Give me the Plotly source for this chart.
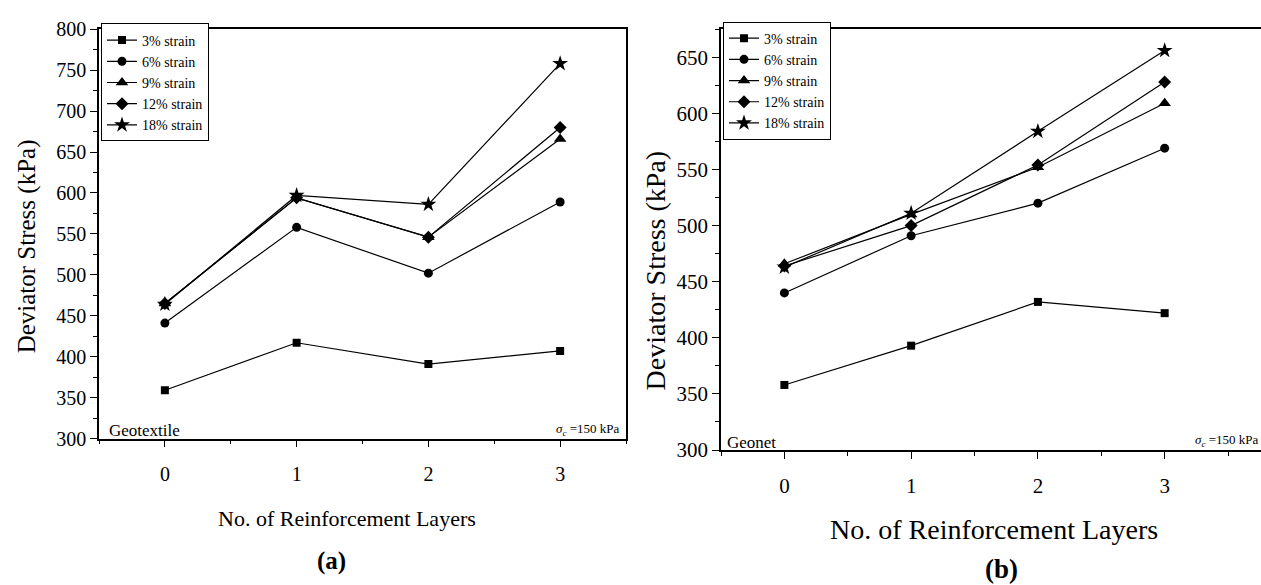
import plotly.graph_objects as go

layers = [0, 1, 2, 3]
series_names = ["3% strain", "6% strain", "9% strain", "12% strain", "18% strain"]
symbols = ["square", "circle", "triangle-up", "diamond", "star"]
sizes = [8, 9, 11, 10, 12]

geotextile_3 = [359, 417, 391, 407]
geotextile_6 = [441, 558, 502, 589]
geotextile_9 = [465, 594, 546, 666]
geotextile_12 = [465, 594, 546, 680]
geotextile_18 = [464, 597, 586, 758]

geonet_3 = [358, 393, 432, 422]
geonet_6 = [440, 491, 520, 569]
geonet_9 = [466, 510, 552, 609]
geonet_12 = [464, 500, 554, 628]
geonet_18 = [463, 511, 584, 656]

geotextile = [geotextile_3, geotextile_6, geotextile_9, geotextile_12, geotextile_18]
geonet = [geonet_3, geonet_6, geonet_9, geonet_12, geonet_18]

FONT = "Liberation Serif, Times New Roman, serif"
W, H = 1261, 585

fig = go.Figure()
for name, sym, sz, ys in zip(series_names, symbols, sizes, geotextile):
    fig.add_trace(go.Scatter(x=layers, y=ys, mode="lines+markers", name=name,
                             line=dict(color="black", width=1.2),
                             marker=dict(symbol=sym, size=sz, color="black"),
                             xaxis="x", yaxis="y", legend="legend"))
for name, sym, sz, ys in zip(series_names, symbols, sizes, geonet):
    fig.add_trace(go.Scatter(x=layers, y=ys, mode="lines+markers", name=name,
                             line=dict(color="black", width=1.2),
                             marker=dict(symbol=sym, size=sz, color="black"),
                             xaxis="x2", yaxis="y2", legend="legend2"))

def px_x(p):
    return p / W

def px_y(p):
    return (H - p) / H

axis_common = dict(showgrid=False, zeroline=False, showline=True, linecolor="black",
                   linewidth=1.5, ticks="outside", ticklen=7, tickwidth=1.2,
                   tickcolor="black", color="black")

fig.update_layout(
    width=W, height=H, margin=dict(l=0, r=0, t=0, b=0),
    paper_bgcolor="white", plot_bgcolor="white",
    font=dict(family=FONT, color="black"),
    xaxis=dict(domain=[px_x(99), px_x(626)], range=[-0.5, 3.5], anchor="y",
               tick0=0, dtick=1, mirror=True, tickfont=dict(size=20, family=FONT),
               ticklabelstandoff=10,
               minor=dict(dtick=0.5, ticks="outside", ticklen=4, tickcolor="black"),
               **axis_common),
    yaxis=dict(domain=[px_y(445), px_y(19)], range=[300, 800], anchor="x",
               tick0=300, dtick=50, mirror=True, tickfont=dict(size=20, family=FONT),
               minor=dict(dtick=25, ticks="outside", ticklen=4, tickcolor="black"),
               **axis_common),
    xaxis2=dict(domain=[px_x(721), 1.0], range=[-0.5, 3.76], anchor="y2",
                tick0=0, dtick=1, mirror=True, tickfont=dict(size=21, family=FONT),
                ticklabelstandoff=9,
                minor=dict(dtick=0.5, ticks="outside", ticklen=4, tickcolor="black"),
                **axis_common),
    yaxis2=dict(domain=[px_y(457), px_y(19)], range=[300, 675], anchor="x2",
                tick0=300, dtick=50, mirror=False, tickfont=dict(size=21, family=FONT),
                minor=dict(dtick=25, ticks="outside", ticklen=4, tickcolor="black"),
                **axis_common),
    legend=dict(x=px_x(101), y=px_y(13), xanchor="left", yanchor="top",
                bgcolor="white", bordercolor="black", borderwidth=1,
                font=dict(size=14, family=FONT), tracegroupgap=0, itemwidth=30),
    legend2=dict(x=px_x(723), y=px_y(11), xanchor="left", yanchor="top",
                 bgcolor="white", bordercolor="black", borderwidth=1,
                 font=dict(size=14, family=FONT), tracegroupgap=0, itemwidth=30),
    showlegend=True,
)

ann = []
# axis titles
ann.append(dict(text="Deviator Stress (kPa)", x=px_x(27), y=px_y(245), textangle=-90,
                font=dict(size=25, family=FONT)))
ann.append(dict(text="Deviator Stress (kPa)", x=px_x(655), y=px_y(270), textangle=-90,
                font=dict(size=28, family=FONT)))
ann.append(dict(text="No. of Reinforcement Layers", x=px_x(347), y=px_y(528),
                font=dict(size=22, family=FONT)))
ann.append(dict(text="No. of Reinforcement Layers", x=px_x(994), y=px_y(540),
                font=dict(size=28, family=FONT)))
ann.append(dict(text="<b>(a)</b>", x=px_x(331), y=px_y(573), font=dict(size=25, family=FONT)))
ann.append(dict(text="<b>(b)</b>", x=px_x(1001), y=px_y(581), font=dict(size=27, family=FONT)))
# in-plot labels
ann.append(dict(text="Geotextile", x=px_x(107), y=px_y(437), xanchor="left",
                font=dict(size=17, family=FONT)))
ann.append(dict(text="Geonet", x=px_x(725), y=px_y(449), xanchor="left",
                font=dict(size=17, family=FONT)))
ann.append(dict(text="<i>σ</i><sub><i>c</i></sub> =150 kPa", x=px_x(622), y=px_y(436),
                xanchor="right", font=dict(size=13, family=FONT)))
ann.append(dict(text="<i>σ</i><sub><i>c</i></sub> =150 kPa", x=px_x(1261), y=px_y(447),
                xanchor="right", font=dict(size=13, family=FONT)))
for a in ann:
    a.update(xref="paper", yref="paper", showarrow=False)
    a.setdefault("xanchor", "center")
    a.setdefault("yanchor", "middle")
fig.update_layout(annotations=ann)

fig.write_html("out.html")
